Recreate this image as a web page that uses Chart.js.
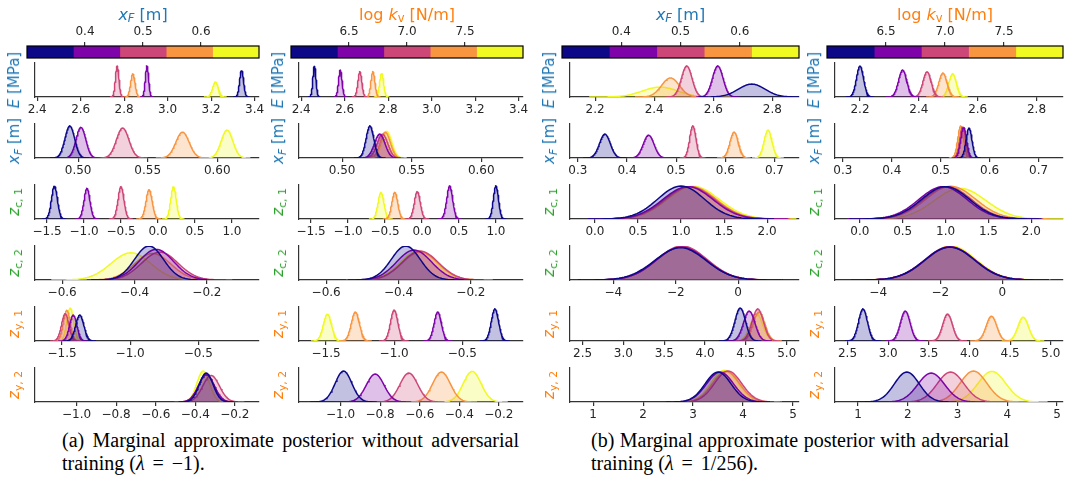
<!DOCTYPE html>
<html>
<head>
<meta charset="utf-8">
<script src="https://cdn.jsdelivr.net/npm/chart.js@4.4.0/dist/chart.umd.min.js"></script>
<style>
  body { margin: 0; width: 1070px; height: 494px; position: relative; overflow: hidden; background: #fff; font-family: "DejaVu Sans", sans-serif; }
  canvas { position: absolute; }
  .ylab { position: absolute; white-space: nowrap; font-size: 15px; transform: translate(-50%, -50%) rotate(-90deg); }
  .cbt { position: absolute; white-space: nowrap; font-size: 16px; transform: translate(-50%, -50%); }
  .cap { position: absolute; font-family: "Liberation Serif", serif; font-size: 20px; color: #000; white-space: nowrap; }
  .full { text-align: justify; text-align-last: justify; }
  .op { margin: 0 0.15em; }
  sub { font-size: 72%; vertical-align: -0.25em; line-height: 0; }
</style>
</head>
<body>
<script>
// plasma, 5 bins
const colours = ['#0d0887', '#7e03a8', '#cc4778', '#f89540', '#f0f921'];

const blue = '#1f77b4', green = '#2ca02c', orange = '#ff7f0e';
const rowLabels = ['<i>E</i> [MPa]', '<i>x<sub>F</sub></i> [m]', '<i>z</i><sub>c, 1</sub>',
  '<i>z</i><sub>c, 2</sub>', '<i>z</i><sub>y, 1</sub>', '<i>z</i><sub>y, 2</sub>'];
const rowColours = [blue, blue, green, green, orange, orange];

// colour bars
const cbarXF = [0.3, 0.7];
const cbarXFTicks = [0.4, 0.5, 0.6];
const cbarXFLabels = ['0.4', '0.5', '0.6'];
const cbarKv = [6.0, 8.0];
const cbarKvTicks = [6.5, 7.0, 7.5];
const cbarKvLabels = ['6.5', '7.0', '7.5'];

// x axes, lambda = -1 (a)
const rangeA = [[2.39, 3.42], [0.469, 0.630], [-1.663, 1.366], [-0.675, -0.056], [-1.699, -0.054], [-1.21, -0.078]];
const ticksA = [[2.4, 2.6, 2.8, 3.0, 3.2, 3.4], [0.5, 0.55, 0.6], [-1.5, -1, -0.5, 0, 0.5, 1],
  [-0.6, -0.4, -0.2], [-1.5, -1, -0.5], [-1, -0.8, -0.6, -0.4, -0.2]];
const tickLabelsA = [['2.4', '2.6', '2.8', '3.0', '3.2', '3.4'], ['0.50', '0.55', '0.60'],
  ['\u22121.5', '\u22121.0', '\u22120.5', '0.0', '0.5', '1.0'], ['\u22120.6', '\u22120.4', '\u22120.2'],
  ['\u22121.5', '\u22121.0', '\u22120.5'], ['\u22121.0', '\u22120.8', '\u22120.6', '\u22120.4', '\u22120.2']];

// x axes, lambda = 1/256 (b)
const rangeB = [[2.115, 2.89], [0.284, 0.75], [-0.29, 2.37], [-5.39, 1.95], [2.346, 5.15], [0.536, 5.12]];
const ticksB = [[2.2, 2.4, 2.6, 2.8], [0.3, 0.4, 0.5, 0.6, 0.7], [0, 0.5, 1, 1.5, 2],
  [-4, -2, 0], [2.5, 3, 3.5, 4, 4.5, 5], [1, 2, 3, 4, 5]];
const tickLabelsB = [['2.2', '2.4', '2.6', '2.8'], ['0.3', '0.4', '0.5', '0.6', '0.7'],
  ['0.0', '0.5', '1.0', '1.5', '2.0'], ['\u22124', '\u22122', '0'],
  ['2.5', '3.0', '3.5', '4.0', '4.5', '5.0'], ['1', '2', '3', '4', '5']];

// posterior modes / spreads / peak heights, one row per parameter, one entry per colour bin
const meansA1 = [[3.34, 2.905, 2.768, 2.84, 3.22], [0.494, 0.502, 0.532, 0.575, 0.607],
  [-1.40, -0.96, -0.50, -0.12, 0.21], [-0.36, -0.34, -0.33, -0.35, -0.41],
  [-1.37, -1.418, -1.477, -1.465, -1.44], [-0.345, -0.344, -0.32, -0.344, -0.36]];
const sdsA1 = [[0.009, 0.0075, 0.008, 0.01, 0.013], [0.0035, 0.0035, 0.0045, 0.0048, 0.0042],
  [0.04, 0.04, 0.04, 0.042, 0.037], [0.04, 0.048, 0.05, 0.05, 0.055],
  [0.03, 0.027, 0.027, 0.025, 0.025], [0.035, 0.04, 0.042, 0.04, 0.032]];
const peaksA1 = [[0.79, 0.91, 0.91, 0.68, 0.44], [0.94, 0.9, 0.88, 0.76, 0.82],
  [0.97, 0.9, 0.95, 0.86, 0.95], [1.0, 0.9, 0.82, 0.78, 0.8],
  [0.76, 0.76, 0.8, 0.9, 0.97], [0.85, 0.8, 0.78, 0.8, 0.91]];

const meansA2 = [[2.461, 2.58, 2.67, 2.73, 2.77], [0.520, 0.527, 0.529, 0.531, 0.532],
  [1.0, 0.375, -0.063, -0.367, -0.554], [-0.38, -0.357, -0.34, -0.34, -0.345],
  [-0.26, -0.68, -1.0, -1.285, -1.49], [-0.985, -0.825, -0.655, -0.49, -0.335]];
const sdsA2 = [[0.007, 0.008, 0.009, 0.009, 0.009], [0.0028, 0.0038, 0.0038, 0.0036, 0.0036],
  [0.035, 0.04, 0.04, 0.04, 0.04], [0.04, 0.048, 0.05, 0.05, 0.05],
  [0.027, 0.027, 0.027, 0.03, 0.03], [0.042, 0.045, 0.045, 0.045, 0.045]];
const peaksA2 = [[0.91, 0.79, 0.74, 0.74, 0.7], [0.94, 0.7, 0.7, 0.76, 0.78],
  [0.97, 0.97, 0.81, 0.78, 0.78], [1.0, 0.88, 0.85, 0.82, 0.85],
  [0.94, 0.85, 0.91, 0.85, 0.79], [0.91, 0.82, 0.85, 0.88, 0.9]];

const meansB1 = [[2.73, 2.615, 2.51, 2.455, 2.42], [0.355, 0.444, 0.534, 0.618, 0.687],
  [1.0, 1.08, 1.1, 1.12, 1.14], [-1.85, -1.82, -1.8, -1.8, -1.82],
  [4.43, 4.54, 4.645, 4.66, 4.63], [3.5, 3.54, 3.7, 3.66, 3.63]];
const sdsB1 = [[0.045, 0.018, 0.018, 0.03, 0.06], [0.011, 0.011, 0.0065, 0.0085, 0.008],
  [0.27, 0.29, 0.29, 0.29, 0.3], [0.82, 0.8, 0.8, 0.8, 0.8],
  [0.065, 0.07, 0.07, 0.07, 0.075], [0.26, 0.27, 0.27, 0.27, 0.27]];
const peaksB1 = [[0.38, 0.91, 0.91, 0.56, 0.29], [0.7, 0.67, 0.94, 0.76, 0.82],
  [0.97, 0.95, 0.95, 0.95, 0.96], [0.95, 0.97, 1.0, 0.98, 0.97],
  [0.97, 0.88, 0.94, 0.85, 0.8], [0.88, 0.88, 0.91, 0.9, 0.93]];

const meansB2 = [[2.2, 2.345, 2.428, 2.482, 2.515], [0.558, 0.547, 0.545, 0.541, 0.543],
  [1.0, 0.97, 1.02, 1.06, 1.17], [-1.7, -1.68, -1.7, -1.68, -1.66],
  [2.69, 3.21, 3.73, 4.27, 4.66], [1.98, 2.47, 2.86, 3.32, 3.69]];
const sdsB2 = [[0.012, 0.014, 0.014, 0.014, 0.013], [0.006, 0.006, 0.006, 0.006, 0.006],
  [0.28, 0.28, 0.28, 0.29, 0.3], [0.8, 0.8, 0.8, 0.8, 0.8],
  [0.055, 0.06, 0.06, 0.065, 0.065], [0.25, 0.27, 0.27, 0.27, 0.28]];
const peaksB2 = [[0.91, 0.79, 0.74, 0.7, 0.68], [0.88, 0.9, 0.92, 0.94, 0.9],
  [0.95, 0.95, 0.95, 0.96, 0.9], [0.97, 0.97, 0.98, 0.98, 1.0],
  [0.94, 0.88, 0.79, 0.73, 0.7], [0.88, 0.85, 0.88, 0.91, 0.9]];

// page layout
const columns = [
  { left: 27, width: 232, range: rangeA, ticks: ticksA, labels: tickLabelsA, means: meansA1, sds: sdsA1, peaks: peaksA1,
    cbar: cbarXF, cbTicks: cbarXFTicks, cbLabels: cbarXFLabels, cbTitle: '<i>x<sub>F</sub></i> [m]', cbColour: blue },
  { left: 291, width: 232, range: rangeA, ticks: ticksA, labels: tickLabelsA, means: meansA2, sds: sdsA2, peaks: peaksA2,
    cbar: cbarKv, cbTicks: cbarKvTicks, cbLabels: cbarKvLabels, cbTitle: 'log <i>k</i><sub>v</sub> [N/m]', cbColour: orange },
  { left: 562, width: 237, range: rangeB, ticks: ticksB, labels: tickLabelsB, means: meansB1, sds: sdsB1, peaks: peaksB1,
    cbar: cbarXF, cbTicks: cbarXFTicks, cbLabels: cbarXFLabels, cbTitle: '<i>x<sub>F</sub></i> [m]', cbColour: blue },
  { left: 827, width: 236, range: rangeB, ticks: ticksB, labels: tickLabelsB, means: meansB2, sds: sdsB2, peaks: peaksB2,
    cbar: cbarKv, cbTicks: cbarKvTicks, cbLabels: cbarKvLabels, cbTitle: 'log <i>k</i><sub>v</sub> [N/m]', cbColour: orange }
];
const firstTop = 63, rowStep = 61, plotH = 34;

const spine = '#333333';
const tickFont = { family: 'DejaVu Sans', size: 12 };

function hexAlpha(hex, a) {
  const n = parseInt(hex.slice(1), 16);
  return 'rgba(' + (n >> 16) + ',' + ((n >> 8) & 255) + ',' + (n & 255) + ',' + a + ')';
}

// smooth density outline around a mode
function density(m, s, h) {
  const pts = [];
  for (let k = -40; k <= 40; k++) {
    const u = k / 10;
    pts.push({ x: m + u * s, y: h * Math.exp(-0.5 * u * u) });
  }
  return pts;
}

function addText(cls, html, x, y, colour, width) {
  const d = document.createElement('div');
  d.className = cls;
  d.innerHTML = html;
  d.style.left = x + 'px';
  d.style.top = y + 'px';
  if (colour) d.style.color = colour;
  if (width) d.style.width = width + 'px';
  document.body.appendChild(d);
}

function panel(left, top, width, range, ticks, labels, means, sds, peaks) {
  const padX = 26, padT = 4, axisH = 22, padB = 2;
  const c = document.createElement('canvas');
  c.width = width + 2 * padX;
  c.height = padT + plotH + axisH + padB;
  c.style.left = (left - padX) + 'px';
  c.style.top = (top - padT) + 'px';
  document.body.appendChild(c);

  const datasets = means.map((m, i) => ({
    data: density(m, sds[i], peaks[i]),
    borderColor: colours[i],
    backgroundColor: hexAlpha(colours[i], 0.25),
    borderWidth: 1.5,
    fill: 'origin',
    pointRadius: 0,
    tension: 0
  }));

  new Chart(c, {
    type: 'line',
    data: { datasets },
    options: {
      responsive: false,
      animation: false,
      devicePixelRatio: 1,
      layout: { autoPadding: false, padding: { left: padX, right: padX, top: padT, bottom: padB } },
      plugins: { legend: { display: false }, tooltip: { enabled: false } },
      scales: {
        x: {
          type: 'linear', min: range[0], max: range[1],
          afterBuildTicks: s => { s.ticks = ticks.map(v => ({ value: v })); },
          afterFit: s => { s.height = axisH; },
          ticks: { autoSkip: false, maxRotation: 0, padding: 2, color: '#262626', font: tickFont,
            callback: (v, i) => labels[i] },
          grid: { drawOnChartArea: false, tickLength: 4, color: spine, lineWidth: 1.2 },
          border: { color: spine, width: 1.2 }
        },
        y: {
          min: 0, max: 1,
          ticks: { display: false },
          grid: { display: false },
          border: { color: spine, width: 1.2 }
        }
      }
    }
  });
}

const outline = {
  id: 'outline',
  afterDatasetsDraw(chart) {
    const a = chart.chartArea, ctx = chart.ctx;
    ctx.save();
    ctx.strokeStyle = '#000';
    ctx.lineWidth = 1.2;
    ctx.strokeRect(a.left, a.top, a.right - a.left, a.bottom - a.top);
    ctx.restore();
  }
};

function colourbar(left, width, lims, ticks, labels) {
  const padX = 24, axisH = 26, barTop = 46, barH = 12;
  const c = document.createElement('canvas');
  c.width = width + 2 * padX;
  c.height = axisH + barH + 2;
  c.style.left = (left - padX) + 'px';
  c.style.top = (barTop - axisH) + 'px';
  document.body.appendChild(c);

  const step = (lims[1] - lims[0]) / colours.length;
  const datasets = colours.map((col, i) => ({
    data: [[lims[0] + i * step, lims[0] + (i + 1) * step]],
    backgroundColor: col,
    borderWidth: 0,
    barPercentage: 1,
    categoryPercentage: 1,
    grouped: false
  }));

  new Chart(c, {
    type: 'bar',
    data: { labels: [''], datasets },
    options: {
      indexAxis: 'y',
      responsive: false,
      animation: false,
      devicePixelRatio: 1,
      layout: { autoPadding: false, padding: { left: padX, right: padX, top: 0, bottom: 2 } },
      plugins: { legend: { display: false }, tooltip: { enabled: false } },
      scales: {
        x: {
          type: 'linear', position: 'top', min: lims[0], max: lims[1],
          afterBuildTicks: s => { s.ticks = ticks.map(v => ({ value: v })); },
          afterFit: s => { s.height = axisH; },
          ticks: { autoSkip: false, maxRotation: 0, padding: 3, color: '#262626', font: tickFont,
            callback: (v, i) => labels[i] },
          grid: { drawOnChartArea: false, tickLength: 4, color: spine, lineWidth: 1.2 },
          border: { display: false }
        },
        y: { display: false }
      }
    },
    plugins: [outline]
  });
}

columns.forEach(col => {
  colourbar(col.left, col.width, col.cbar, col.cbTicks, col.cbLabels);
  addText('cbt', col.cbTitle, col.left + col.width / 2, 14, col.cbColour);
  for (let r = 0; r < 6; r++) {
    const top = firstTop + r * rowStep;
    panel(col.left, top, col.width, col.range[r], col.ticks[r], col.labels[r],
      col.means[r], col.sds[r], col.peaks[r]);
    addText('ylab', rowLabels[r], col.left - 13, top + plotH / 2, rowColours[r]);
  }
});

addText('cap full', '(a) Marginal approximate posterior without adversarial', 62, 429, null, 457);
addText('cap', 'training (<i>\u03bb</i> <span class="op">=</span> \u22121).', 62, 452);
addText('cap full', '(b) Marginal approximate posterior with adversarial', 591, 429, null, 418);
addText('cap', 'training (<i>\u03bb</i> <span class="op">=</span> 1/256).', 591, 452);
</script>
</body>
</html>
